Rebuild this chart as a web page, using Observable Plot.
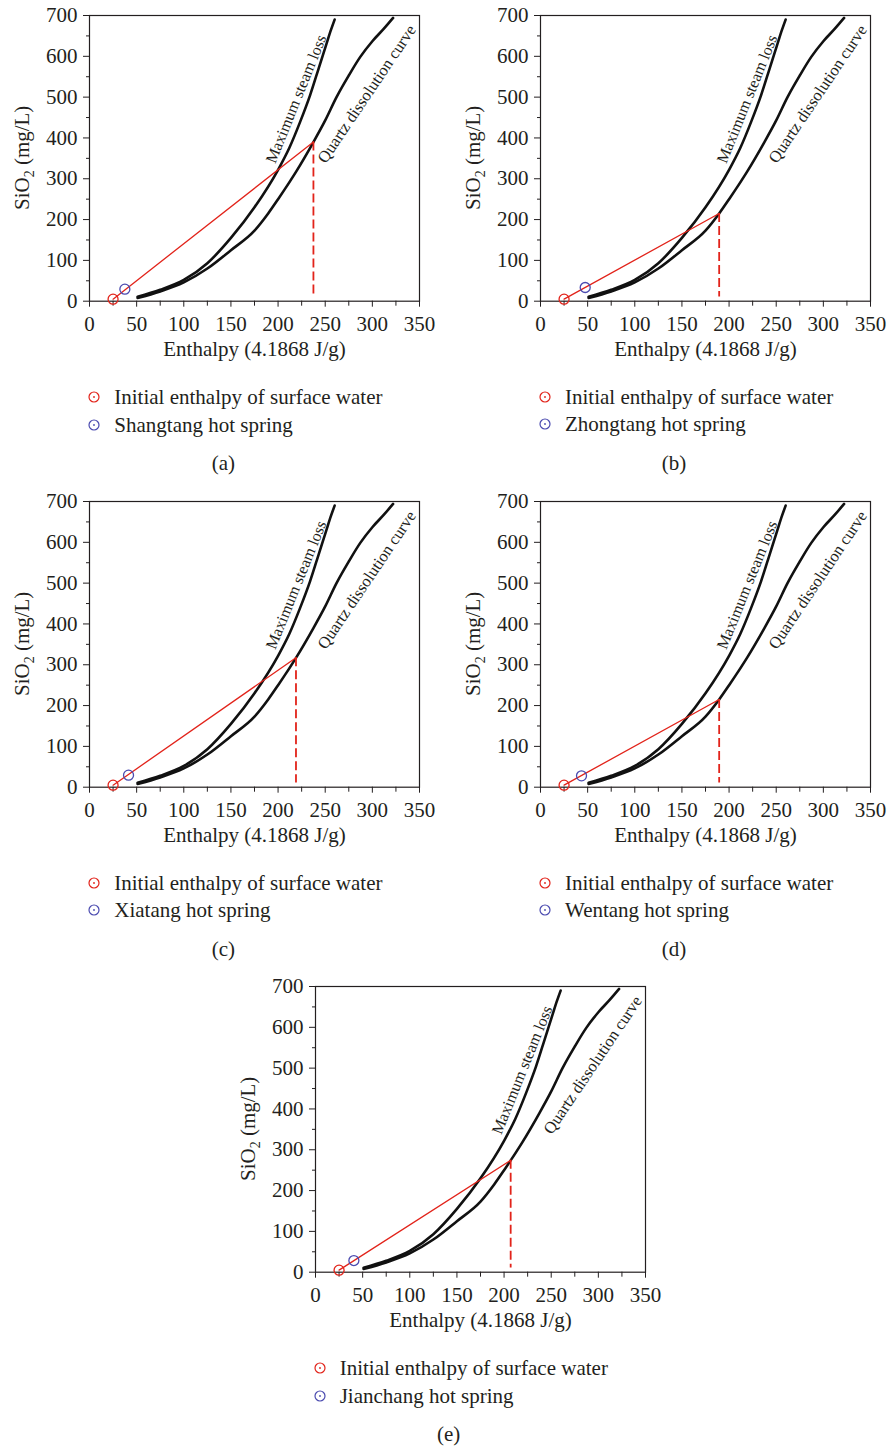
<!DOCTYPE html>
<html>
<head>
<meta charset="utf-8">
<script src="https://cdn.jsdelivr.net/npm/d3@7"></script>
<script src="https://cdn.jsdelivr.net/npm/@observablehq/plot@0.6"></script>
<style>
  html, body { margin: 0; padding: 0; background: #fff; }
  #root { position: relative; width: 887px; height: 1446px; overflow: hidden; font-family: "Liberation Serif", "DejaVu Serif", serif; color: #231f20; }
  .panel { position: absolute; }
  .leg { position: absolute; font-size: 21px; line-height: 20px; white-space: nowrap; }
  .cap { position: absolute; font-size: 21px; line-height: 20px; white-space: nowrap; transform: translateX(-50%); }
  .mk { position: absolute; }
</style>
</head>
<body>
<div id="root"></div>
<script>
// ---------------- data ----------------
const xTicks = [0, 50, 100, 150, 200, 250, 300, 350];
const xMinorTicks = [25, 75, 125, 175, 225, 275, 325];
const yTicks = [0, 100, 200, 300, 400, 500, 600, 700];
const yMinorTicks = [50, 150, 250, 350, 450, 550, 650];

// Maximum steam loss curve (enthalpy, SiO2)
const steamLossEnthalpy = [51, 75, 100, 125, 150, 175, 200, 212, 223.5, 234, 243, 251, 256, 260];
const steamLossSiO2     = [11, 28, 52, 93, 155, 230, 322, 376, 440, 505, 570, 628, 664, 690];

// Quartz dissolution curve (enthalpy, SiO2)
const quartzEnthalpy = [51, 75, 100, 125, 150, 175, 189.5, 200, 207, 219, 237.5, 250, 262, 275, 287, 300, 312, 322];
const quartzSiO2     = [8, 24, 46, 80, 125, 173, 215, 250, 274, 317, 390, 443, 500, 553, 598, 637, 667, 694];

const panelLetters = ["(a)", "(b)", "(c)", "(d)", "(e)"];
const springNames = ["Shangtang hot spring", "Zhongtang hot spring", "Xiatang hot spring", "Wentang hot spring", "Jianchang hot spring"];
const springEnthalpy = [37.5, 47.4, 41.4, 43.5, 40.7];
const springSiO2     = [29.4, 33.6, 29.4, 27.8, 28.6];
const mixEnthalpy = [237.5, 189.5, 219, 189.5, 207];
const mixSiO2     = [390, 215, 317, 215, 274];
const surfaceEnthalpy = 25;
const surfaceSiO2 = 5;
const surfaceLabel = "Initial enthalpy of surface water";
const curveLabels = ["Maximum steam loss", "Quartz dissolution curve"];
const xLabel = "Enthalpy (4.1868 J/g)";

// ---------------- layout ----------------
const RED = "#e2231a";
const BLUE = "#4b4bb0";
const INK = "#231f20";
const FW = 330, FH = 285.7;
const origins = [[89.3, 15], [540, 14.7], [89.3, 500.7], [540, 500.7], [314.7, 986]];
const ML = 89, MT = 15, W = 440, H = 370;

const root = document.getElementById("root");
const steam = steamLossEnthalpy.map((h, k) => ({h, s: steamLossSiO2[k]}));
const quartz = quartzEnthalpy.map((h, k) => ({h, s: quartzSiO2[k]}));

function marker(color) {
  const ns = "http://www.w3.org/2000/svg";
  const s = document.createElementNS(ns, "svg");
  s.setAttribute("width", 14); s.setAttribute("height", 14);
  const c = document.createElementNS(ns, "circle");
  c.setAttribute("cx", 7); c.setAttribute("cy", 7); c.setAttribute("r", 5);
  c.setAttribute("fill", "none"); c.setAttribute("stroke", color); c.setAttribute("stroke-width", 1.2);
  const d = document.createElementNS(ns, "circle");
  d.setAttribute("cx", 7); d.setAttribute("cy", 7); d.setAttribute("r", 0.9);
  d.setAttribute("fill", color);
  s.appendChild(c); s.appendChild(d);
  return s;
}

panelLetters.forEach((letter, i) => {
  const [X0, Y0] = origins[i];
  const surface = {h: surfaceEnthalpy, s: surfaceSiO2};
  const spring = {h: springEnthalpy[i], s: springSiO2[i]};
  const mix = {h: mixEnthalpy[i], s: mixSiO2[i]};

  const chart = Plot.plot({
    width: W, height: H,
    marginLeft: ML, marginTop: MT, marginRight: W - ML - FW, marginBottom: H - MT - FH,
    x: {domain: [0, 350], label: null},
    y: {domain: [0, 700], label: null},
    style: {fontFamily: "'Liberation Serif', serif", fontSize: "21px", color: INK, background: "transparent", overflow: "visible"},
    marks: [
      Plot.axisX({ticks: xTicks, tickSize: 6, tickPadding: 9, label: null, stroke: INK}),
      Plot.axisX({ticks: xMinorTicks, tickSize: 5, tickFormat: () => "", label: null, stroke: INK}),
      Plot.axisY({ticks: yTicks, tickSize: 6, tickPadding: 6, label: null, stroke: INK}),
      Plot.axisY({ticks: yMinorTicks, tickSize: 3, tickFormat: () => "", label: null, stroke: INK}),
      Plot.frame({stroke: INK, strokeWidth: 1.2}),
      Plot.line(steam, {x: "h", y: "s", curve: "monotone-x", stroke: "#111", strokeWidth: 2.6}),
      Plot.line(quartz, {x: "h", y: "s", curve: "monotone-x", stroke: "#111", strokeWidth: 2.6}),
      Plot.line([surface, mix], {x: "h", y: "s", stroke: RED, strokeWidth: 1.3}),
      Plot.ruleX([mix], {x: "h", y1: "s", y2: 10, stroke: RED, strokeWidth: 1.8, strokeDasharray: "9,4"}),
      Plot.dot([surface], {x: "h", y: "s", r: 5, stroke: RED, strokeWidth: 1.3, fill: "none"}),
      Plot.dot([spring], {x: "h", y: "s", r: 5, stroke: BLUE, strokeWidth: 1.3, fill: "none"}),
      Plot.text([curveLabels[0]], {text: d => d, x: 192, y: 340, rotate: -68, textAnchor: "start", fontSize: 16, fill: INK}),
      Plot.text([curveLabels[1]], {text: d => d, x: 246, y: 343, rotate: -56, textAnchor: "start", fontSize: 16.5, fill: INK}),
      Plot.text([xLabel], {text: d => d, frameAnchor: "bottom", dy: 55, fontSize: 21, fill: INK})
    ]
  });

  // y-axis label with subscript
  const svg = d3.select(chart);
  const t = svg.append("text")
    .attr("transform", `translate(${ML - 60},${MT + FH / 2}) rotate(-90)`)
    .attr("text-anchor", "middle")
    .attr("font-size", 21)
    .attr("fill", INK);
  t.append("tspan").text("SiO");
  t.append("tspan").attr("font-size", 14).attr("dy", 5).text("2");
  t.append("tspan").attr("dy", -5).text(" (mg/L)");

  chart.classList.add("panel");
  chart.style.left = (X0 - ML) + "px";
  chart.style.top = (Y0 - MT) + "px";
  root.appendChild(chart);

  // legend
  const rows = [[RED, surfaceLabel], [BLUE, springNames[i]]];
  rows.forEach(([col, label], r) => {
    const cy = Y0 + 382 + r * 27.5;
    const m = marker(col);
    m.classList.add("mk");
    m.style.left = (X0 + 5 - 7) + "px";
    m.style.top = (cy - 7) + "px";
    root.appendChild(m);
    const d = document.createElement("div");
    d.className = "leg";
    d.textContent = label;
    d.style.left = (X0 + 25) + "px";
    d.style.top = (cy - 10) + "px";
    root.appendChild(d);
  });

  const cap = document.createElement("div");
  cap.className = "cap";
  cap.textContent = letter;
  cap.style.left = (X0 + FW / 2 - 31) + "px";
  cap.style.top = (Y0 + 448 - 10) + "px";
  root.appendChild(cap);
});
</script>
</body>
</html>
